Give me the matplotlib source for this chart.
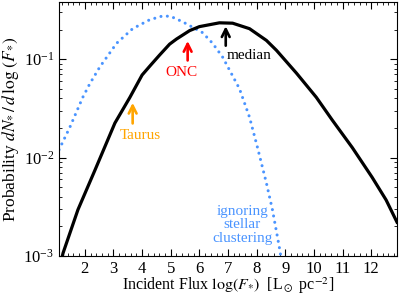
import numpy as np
import matplotlib.pyplot as plt
from matplotlib.ticker import MultipleLocator

plt.rcParams['font.family'] = 'serif'
plt.rcParams['font.serif'] = ['Liberation Serif', 'DejaVu Serif']
plt.rcParams['mathtext.fontset'] = 'stix'

# black curve: full distribution
flux_all = [1.2, 1.24, 1.76, 2.35, 3.05, 3.57, 4.0, 4.3, 4.61, 4.96, 5.2, 5.66,
            6.0, 6.7, 7.16, 7.75, 8.34, 8.69, 9.39, 10.08, 10.64, 11.34, 12.03,
            12.52, 12.9]
prob_all = [0.00095, 0.00107, 0.00295, 0.0074, 0.0224, 0.0407, 0.069, 0.087,
            0.11, 0.142, 0.16, 0.195, 0.214, 0.234, 0.232, 0.204, 0.155,
            0.123, 0.072, 0.041, 0.024, 0.0126, 0.0063, 0.0037, 0.0022]

# blue dotted: ignoring stellar clustering
flux_iso = [1.1, 1.48, 1.93, 2.17, 2.52, 3.11, 3.67, 4.26, 4.72, 5.0, 5.41,
            6.11, 6.46, 6.81, 7.4, 7.75, 8.03, 8.34, 8.55, 8.79, 8.87]
prob_iso = [0.012, 0.0204, 0.041, 0.056, 0.083, 0.145, 0.204, 0.251, 0.275,
            0.272, 0.24, 0.186, 0.145, 0.105, 0.05, 0.0257, 0.0126, 0.0055,
            0.00295, 0.00123, 0.00089]

blue = '#4a94ff'

fig = plt.figure(figsize=(3.99, 3.0), dpi=100)
ax = fig.add_axes([0.148, 0.147, 0.847, 0.846])

ax.plot(flux_iso, prob_iso, color=blue, lw=2.2, ls=(0, (0.01, 2.1)),
        dash_capstyle='round')
ax.plot(flux_all, prob_all, color='black', lw=2.3)

ax.set_yscale('log')
ax.set_xlim(1.1, 12.9)
ax.set_ylim(1e-3, 0.38)
ax.xaxis.set_major_locator(MultipleLocator(1))
ax.xaxis.set_minor_locator(MultipleLocator(0.2))
ax.tick_params(which='both', direction='in', top=True, right=True, labelsize=12)
ax.tick_params(which='major', length=5)
ax.tick_params(which='minor', length=2.5)

ax.set_xlabel(r'Incident Flux $\log(F_{*})$  [L$_\odot$ pc$^{-2}$]', fontsize=11.5,
              labelpad=-1)
ax.set_ylabel(r'Probability $dN_{*}\,/\,d\,\log\,(F_{*})$', fontsize=12.5,
              labelpad=2)

arrow = dict(arrowstyle='->', lw=1.9, mutation_scale=14, shrinkA=0, shrinkB=0)
ax.annotate('', xy=(3.67, 0.036), xytext=(3.67, 0.0222),
            arrowprops=dict(arrow, color='orange'))
ax.text(3.92, 0.0168, 'Taurus', color='orange', ha='center', va='center', fontsize=11)
ax.annotate('', xy=(5.59, 0.153), xytext=(5.59, 0.097),
            arrowprops=dict(arrow, color='red'))
ax.text(5.38, 0.074, 'ONC', color='red', ha='center', va='center', fontsize=11)
ax.annotate('', xy=(6.92, 0.216), xytext=(6.92, 0.137),
            arrowprops=dict(arrow, color='black'))
ax.text(6.95, 0.11, 'median', color='black', ha='left', va='center', fontsize=11)
ax.text(7.5, 0.00207, 'ignoring\nstellar\nclustering', color=blue,
        ha='center', va='center', fontsize=11, linespacing=1.05)

fig.savefig('out.png', dpi=100)
